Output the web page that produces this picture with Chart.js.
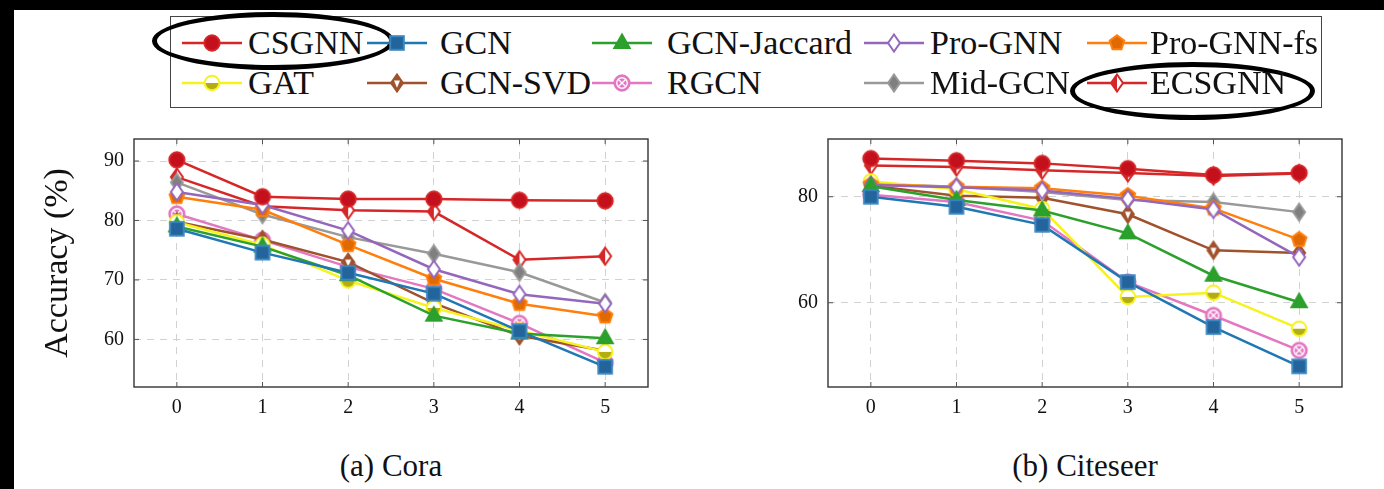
<!DOCTYPE html>
<html>
<head>
<meta charset="utf-8">
<script src="https://cdn.jsdelivr.net/npm/chart.js@4.4.1/dist/chart.umd.min.js"></script>
<style>
  body { margin: 0; background: #fff; }
  #page { position: relative; width: 1384px; height: 489px; overflow: hidden; background: #fff;
          font-family: "Liberation Serif", "DejaVu Serif", serif; color: #111; }
  .abs { position: absolute; }
  .leg-text { position: absolute; font-size: 34px; line-height: 40px; white-space: nowrap; }
  .sub { position: absolute; font-size: 31px; line-height: 36px; transform: translateX(-50%); white-space: nowrap; }
  .ring { position: absolute; border: 5px solid #000; border-radius: 50%; box-sizing: border-box; }
</style>
</head>
<body>
<div id="page">
  <div class="abs" style="left:0;top:0;width:1384px;height:10px;background:#000"></div>
  <div class="abs" style="left:0;top:0;width:14px;height:489px;background:#000"></div>
  <div id="legend" class="abs" style="left:170px;top:16px;width:1152px;height:92px;border:1px solid #444;box-sizing:border-box"></div>
  <div class="abs" style="left:0;top:110px"><canvas id="cora" width="680" height="320"></canvas></div>
  <div class="abs" style="left:690px;top:110px"><canvas id="citeseer" width="694" height="320"></canvas></div>
  <div class="sub" style="left:391px;top:448px">(a) Cora</div>
  <div class="sub" style="left:1085px;top:448px">(b) Citeseer</div>
  <div class="ring" style="left:152px;top:12px;width:242px;height:58px"></div>
  <div class="ring" style="left:1070px;top:62px;width:245px;height:58px"></div>
</div>
<script>
// x axis: perturbation levels
const rates = ['0', '1', '2', '3', '4', '5'];
const methods = ['CSGNN', 'GCN', 'GCN-Jaccard', 'Pro-GNN', 'Pro-GNN-fs',
                 'GAT', 'GCN-SVD', 'RGCN', 'Mid-GCN', 'ECSGNN'];

// Cora accuracy (%)
const coraCSGNN     = [90.2, 84.0, 83.6, 83.6, 83.4, 83.3];
const coraGCN       = [78.6, 74.6, 71.2, 67.7, 61.4, 55.4];
const coraJaccard   = [79.0, 75.6, 70.8, 64.0, 61.0, 60.2];
const coraProGNN    = [84.8, 82.6, 78.3, 71.8, 67.6, 66.0];
const coraProGNNfs  = [84.0, 81.8, 75.9, 70.2, 66.0, 63.9];
const coraGAT       = [79.7, 75.9, 69.9, 65.3, 61.5, 57.9];
const coraSVD       = [79.8, 76.8, 73.0, 66.1, 60.6, 58.1];
const coraRGCN      = [81.1, 76.7, 72.2, 68.5, 62.7, 56.1];
const coraMidGCN    = [86.4, 81.0, 77.2, 74.4, 71.3, 66.2];
const coraECSGNN    = [87.3, 82.4, 81.7, 81.5, 73.4, 74.0];

// Citeseer accuracy (%)
const citeCSGNN     = [87.2, 86.8, 86.3, 85.3, 84.1, 84.5];
const citeGCN       = [80.0, 78.1, 74.7, 63.9, 55.4, 48.0];
const citeJaccard   = [82.0, 79.4, 77.4, 73.1, 65.1, 60.1];
const citeProGNN    = [82.2, 81.8, 81.2, 79.6, 77.6, 68.6];
const citeProGNNfs  = [82.3, 81.9, 81.6, 80.2, 77.8, 71.9];
const citeGAT       = [82.9, 81.4, 77.7, 61.1, 61.9, 55.1];
const citeSVD       = [82.1, 80.2, 79.8, 76.7, 69.9, 69.4];
const citeRGCN      = [80.4, 79.0, 75.5, 63.9, 57.6, 51.0];
const citeMidGCN    = [82.4, 81.9, 80.9, 79.4, 79.0, 77.1];
const citeECSGNN    = [85.9, 85.6, 85.0, 84.5, 83.9, 84.4];

const coraYTicks = [60, 70, 80, 90];
const citeYTicks = [60, 80];

const coraSeries = [coraCSGNN, coraGCN, coraJaccard, coraProGNN, coraProGNNfs,
                    coraGAT, coraSVD, coraRGCN, coraMidGCN, coraECSGNN];
const citeSeries = [citeCSGNN, citeGCN, citeJaccard, citeProGNN, citeProGNNfs,
                    citeGAT, citeSVD, citeRGCN, citeMidGCN, citeECSGNN];

// line colour, marker kind, marker stroke, marker fill
const styles = [
  { line: '#d62728', kind: 'circle',   stroke: '#d62728', fill: '#c3101c' },
  { line: '#1f77b4', kind: 'square',   stroke: '#3a86c0', fill: '#24649c' },
  { line: '#2ca02c', kind: 'triangle', stroke: '#2ca02c', fill: '#2ca02c' },
  { line: '#9467bd', kind: 'diamond',  stroke: '#9467bd', fill: '#ffffff' },
  { line: '#ff7f0e', kind: 'pentagon', stroke: '#ff7f0e', fill: '#e06a00' },
  { line: '#f6f21c', kind: 'halfcircle', stroke: '#f6f21c', fill: '#b3ad12' },
  { line: '#a0522d', kind: 'svd',      stroke: '#a0522d', fill: '#a0522d' },
  { line: '#e377c2', kind: 'otimes',   stroke: '#e377c2', fill: '#e377c2' },
  { line: '#999999', kind: 'diamond',  stroke: '#999999', fill: '#7f7f7f' },
  { line: '#d62728', kind: 'halfdiamond', stroke: '#d62728', fill: '#d62728' }
];

const serif = '"Liberation Serif", "DejaVu Serif", serif';

function makeMarker(st, r) {
  const size = Math.ceil(2 * r + 5);
  const c = document.createElement('canvas');
  c.width = size; c.height = size;
  const g = c.getContext('2d');
  const m = size / 2, w = r * 0.7;
  g.lineWidth = 2;
  g.strokeStyle = st.stroke;
  g.fillStyle = st.fill;
  const diamond = () => {
    g.beginPath();
    g.moveTo(m, m - r); g.lineTo(m + w, m); g.lineTo(m, m + r); g.lineTo(m - w, m);
    g.closePath();
  };
  if (st.kind === 'circle') {
    g.beginPath(); g.arc(m, m, r * 0.9, 0, Math.PI * 2); g.fill(); g.stroke();
  } else if (st.kind === 'square') {
    const h = r * 0.8;
    g.fillRect(m - h, m - h, 2 * h, 2 * h); g.strokeRect(m - h, m - h, 2 * h, 2 * h);
  } else if (st.kind === 'triangle') {
    g.beginPath(); g.moveTo(m, m - r); g.lineTo(m + r * 0.9, m + r * 0.6); g.lineTo(m - r * 0.9, m + r * 0.6);
    g.closePath(); g.fill(); g.stroke();
  } else if (st.kind === 'diamond') {
    diamond(); g.fill(); g.stroke();
  } else if (st.kind === 'pentagon') {
    g.beginPath();
    for (let k = 0; k < 5; k++) {
      const a = -Math.PI / 2 + k * 2 * Math.PI / 5;
      const px = m + r * 0.9 * Math.cos(a), py = m + r * 0.9 * Math.sin(a);
      k ? g.lineTo(px, py) : g.moveTo(px, py);
    }
    g.closePath(); g.fill(); g.stroke();
  } else if (st.kind === 'halfcircle') {
    g.beginPath(); g.arc(m, m, r * 0.85, 0, Math.PI * 2); g.fillStyle = '#fff'; g.fill();
    g.beginPath(); g.arc(m, m, r * 0.85, 0, Math.PI); g.closePath(); g.fillStyle = st.fill; g.fill();
    g.beginPath(); g.arc(m, m, r * 0.85, 0, Math.PI * 2); g.stroke();
  } else if (st.kind === 'otimes') {
    g.beginPath(); g.arc(m, m, r * 0.9, 0, Math.PI * 2); g.fill(); g.stroke();
    g.strokeStyle = '#fff'; g.lineWidth = 1.3;
    const d = r * 0.45;
    g.beginPath(); g.moveTo(m - d, m - d); g.lineTo(m + d, m + d); g.moveTo(m + d, m - d); g.lineTo(m - d, m + d); g.stroke();
    g.beginPath(); g.arc(m, m, r * 0.62, 0, Math.PI * 2); g.stroke();
  } else if (st.kind === 'svd') {
    diamond(); g.fill(); g.stroke();
    g.fillStyle = '#fff';
    g.beginPath(); g.moveTo(m - w * 0.5, m - r * 0.3); g.lineTo(m + w * 0.5, m - r * 0.3); g.lineTo(m, m + r * 0.55);
    g.closePath(); g.fill();
  } else if (st.kind === 'halfdiamond') {
    diamond(); g.fillStyle = '#fff'; g.fill();
    g.beginPath(); g.moveTo(m, m - r); g.lineTo(m - w, m); g.lineTo(m, m + r); g.closePath();
    g.fillStyle = st.fill; g.fill();
    diamond(); g.stroke();
  }
  return c;
}

const markers = styles.map(st => makeMarker(st, 8.5));

// full frame with inner ticks, like the pgfplots box
const boxPlugin = {
  id: 'box',
  afterDraw(chart) {
    const { ctx, chartArea: a, scales } = chart;
    ctx.save();
    ctx.strokeStyle = '#333';
    ctx.lineWidth = 1.4;
    ctx.strokeRect(a.left, a.top, a.right - a.left, a.bottom - a.top);
    ctx.lineWidth = 1;
    ctx.strokeStyle = '#555';
    ctx.beginPath();
    scales.x.ticks.forEach((t, i) => {
      const px = scales.x.getPixelForTick(i);
      ctx.moveTo(px, a.bottom); ctx.lineTo(px, a.bottom - 5);
      ctx.moveTo(px, a.top); ctx.lineTo(px, a.top + 5);
    });
    scales.y.ticks.forEach(t => {
      const py = scales.y.getPixelForValue(t.value);
      ctx.moveTo(a.left, py); ctx.lineTo(a.left + 5, py);
      ctx.moveTo(a.right, py); ctx.lineTo(a.right - 5, py);
    });
    ctx.stroke();
    ctx.restore();
  }
};

function buildChart(id, series, yMin, yMax, yTicks, yWidth, padRight, withTitle) {
  const datasets = series.map((vals, i) => ({
    label: methods[i],
    data: vals,
    borderColor: styles[i].line,
    backgroundColor: styles[i].fill,
    borderWidth: 2.5,
    pointStyle: markers[i],
    pointRadius: 8,
    tension: 0
  }));
  return new Chart(document.getElementById(id), {
    type: 'line',
    data: { labels: rates, datasets: datasets },
    options: {
      responsive: false,
      animation: false,
      layout: { padding: { left: 0, right: padRight, top: 29, bottom: 0 } },
      plugins: { legend: { display: false }, tooltip: { enabled: false } },
      scales: {
        x: {
          type: 'category',
          offset: true,
          grid: { offset: false, color: '#d2d2d2', drawTicks: false },
          border: { display: false, dash: [7, 6] },
          ticks: { padding: 9, color: '#111', font: { family: serif, size: 20 } },
          afterFit: s => { s.height = 43; }
        },
        y: {
          min: yMin,
          max: yMax,
          afterBuildTicks: s => { s.ticks = yTicks.map(v => ({ value: v })); },
          grid: { color: '#d2d2d2', drawTicks: false },
          border: { display: false, dash: [7, 6] },
          ticks: { padding: 10, color: '#111', font: { family: serif, size: 20 } },
          title: {
            display: withTitle,
            text: 'Accuracy (%)',
            color: '#111',
            font: { family: serif, size: 34 },
            padding: { top: 38, bottom: 0 }
          },
          afterFit: s => { s.width = yWidth; }
        }
      }
    },
    plugins: [boxPlugin]
  });
}

buildChart('cora', coraSeries, 52, 93.7, coraYTicks, 134, 32, true);
buildChart('citeseer', citeSeries, 44.1, 90.9, citeYTicks, 138, 42, false);

// shared legend, 5 columns x 2 rows
const legLineX = [180, 365, 590, 862, 1085];
const legTextX = [248, 440, 667, 930, 1150];
const legRowY = [43, 83];
const page = document.getElementById('page');
methods.forEach((name, i) => {
  const row = Math.floor(i / 5), col = i % 5;
  const c = document.createElement('canvas');
  c.width = 64; c.height = 40;
  c.className = 'abs';
  c.style.left = legLineX[col] + 'px';
  c.style.top = (legRowY[row] - 20) + 'px';
  const g = c.getContext('2d');
  g.strokeStyle = styles[i].line;
  g.lineWidth = 2.5;
  g.beginPath(); g.moveTo(2, 20); g.lineTo(62, 20); g.stroke();
  const mk = markers[i];
  g.drawImage(mk, 32 - mk.width / 2, 20 - mk.height / 2);
  page.appendChild(c);
  const t = document.createElement('div');
  t.className = 'leg-text';
  t.textContent = name;
  t.style.left = legTextX[col] + 'px';
  t.style.top = (legRowY[row] - 20) + 'px';
  page.appendChild(t);
});
</script>
</body>
</html>
